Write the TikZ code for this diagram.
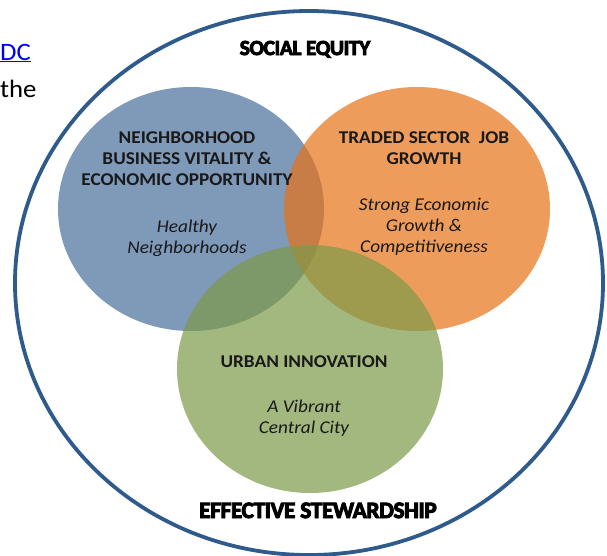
\documentclass[tikz,border=0pt]{standalone}
\usepackage{fontspec}
\setmainfont[FakeStretch=1.07]{Carlito}
\newfontfamily\heavyfont[FakeStretch=1.0,LetterSpace=-2,BoldFeatures={FakeBold=4}]{Carlito}
\usetikzlibrary{shapes,positioning}

\definecolor{ringblue}{RGB}{47,90,140}
\definecolor{circblue}{RGB}{72,109,154}
\definecolor{circorange}{RGB}{231,114,21}
\definecolor{circgreen}{RGB}{124,154,72}
\definecolor{inktext}{RGB}{25,25,25}
\definecolor{linkblue}{RGB}{0,0,238}

\tikzset{
  goal/.style={ellipse,inner sep=0pt,minimum width=266pt,minimum height=244pt,fill opacity=0.7},
  heading/.style={font=\bfseries\fontsize{18}{21}\selectfont,text=inktext,align=center,anchor=base},
  motto/.style={font=\itshape\fontsize{18}{21}\selectfont,text=inktext,align=center,anchor=base},
  frame/.style={font=\heavyfont\bfseries\fontsize{21.5}{24}\selectfont,text=black,anchor=base}
}

\begin{document}
\begin{tikzpicture}[x=1pt,y=-1pt]
\useasboundingbox (0,0) rectangle (607,555);

% bits of the page behind the picture
\node[anchor=base west,inner sep=0pt,font=\fontsize{25}{30}\selectfont,text=linkblue] (pagelink) at (0,60) {\underline{DC}};
\node[anchor=base west,inner sep=0pt,font=\fontsize{25}{30}\selectfont,text=black] (pagetext) at (0,97) {the};

% outer ring
\node[ellipse,draw=ringblue,line width=3.8pt,inner sep=0pt,minimum width=588pt,minimum height=544pt] (ring) at (309,283) {};

% the three goals
\node[goal,fill=circblue] (neigh) at (191,209) {};
\node[goal,fill=circorange] (traded) at (417,209) {};
\node[goal,fill=circgreen,minimum height=248pt] (urban) at (310,369) {};

% labels (anchored at the base of the last line)
\node[frame] (equity) at (305,55) {SOCIAL EQUITY};
\node[frame,font=\heavyfont\bfseries\fontsize{23.5}{26}\selectfont] (steward) at (318,518) {EFFECTIVE STEWARDSHIP};

\node[heading] (neighhead) at (187,185) {NEIGHBORHOOD\\BUSINESS VITALITY \&\\ECONOMIC OPPORTUNITY};
\node[motto] (neighmotto) at (187,253) {Healthy\\Neighborhoods};

\node[heading] (tradedhead) at (424,164) {TRADED SECTOR\ \ JOB\\GROWTH};
\node[motto] (tradedmotto) at (424,252) {Strong Economic\\Growth \&\\Competitiveness};

\node[heading] (urbanhead) at (304,367) {URBAN INNOVATION};
\node[motto] (urbanmotto) at (304,433) {A Vibrant\\Central City};

\end{tikzpicture}
\end{document}
